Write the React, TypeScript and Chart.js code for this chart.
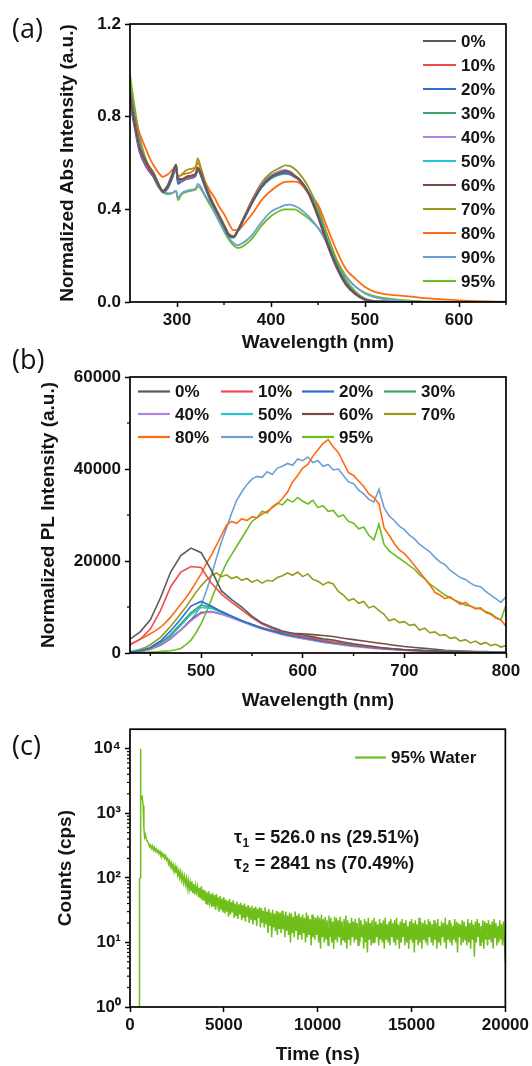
import { useEffect, useRef } from 'react';
import { Chart, registerables } from 'chart.js';

Chart.register(...registerables);

const SANS = '"Liberation Sans", Arial, Helvetica, sans-serif';
const PANEL_FONT = '"Open Sans", "Liberation Sans", sans-serif';
const INK = '#141414';

const SERIES_LABELS = ['0%', '10%', '20%', '30%', '40%', '50%', '60%', '70%', '80%', '90%', '95%'];
const SERIES_COLORS = ['#5a5a5a', '#ef4b4f', '#2a6fd6', '#3aa56c', '#b382e3', '#22c7d6', '#7a4a48', '#999a1c', '#ff6a13', '#6d9fd6', '#6cbd1f'];

// ---------- (a) absorption ----------
const ABS_WL = [250, 255, 260, 265, 270, 275, 280, 285, 290, 295, 299, 301, 305, 310, 315, 320, 322, 325, 330, 335, 340, 345, 350, 355, 360, 365, 370, 375, 380, 390, 400, 410, 415, 420, 425, 430, 440, 450, 460, 470, 480, 490, 500, 510, 520, 540, 560, 580, 600, 620, 640, 650];
const ABS_0 = [0.90, 0.77, 0.67, 0.62, 0.58, 0.55, 0.51, 0.48, 0.50, 0.55, 0.59, 0.53, 0.53, 0.54, 0.545, 0.555, 0.58, 0.56, 0.50, 0.45, 0.41, 0.37, 0.33, 0.29, 0.28, 0.31, 0.35, 0.39, 0.43, 0.50, 0.54, 0.56, 0.565, 0.56, 0.545, 0.53, 0.47, 0.37, 0.25, 0.15, 0.075, 0.035, 0.01, 0.003, 0.001, 0, 0, 0, 0, 0, 0, 0];
const ABS_10 = [0.88, 0.76, 0.66, 0.61, 0.57, 0.545, 0.505, 0.478, 0.50, 0.545, 0.585, 0.525, 0.525, 0.535, 0.54, 0.55, 0.575, 0.555, 0.50, 0.45, 0.41, 0.37, 0.33, 0.29, 0.282, 0.312, 0.352, 0.392, 0.432, 0.50, 0.54, 0.558, 0.562, 0.556, 0.542, 0.525, 0.465, 0.365, 0.245, 0.145, 0.072, 0.032, 0.009, 0.002, 0.001, 0, 0, 0, 0, 0, 0, 0];
const ABS_20 = [0.86, 0.75, 0.65, 0.60, 0.565, 0.54, 0.50, 0.475, 0.49, 0.535, 0.575, 0.51, 0.52, 0.53, 0.535, 0.545, 0.57, 0.55, 0.495, 0.445, 0.405, 0.365, 0.325, 0.285, 0.278, 0.308, 0.348, 0.388, 0.428, 0.495, 0.535, 0.555, 0.558, 0.553, 0.54, 0.525, 0.47, 0.375, 0.255, 0.155, 0.078, 0.034, 0.01, 0.003, 0.001, 0, 0, 0, 0, 0, 0, 0];
const ABS_30 = [0.89, 0.77, 0.67, 0.615, 0.575, 0.548, 0.505, 0.478, 0.495, 0.54, 0.58, 0.52, 0.525, 0.535, 0.54, 0.55, 0.575, 0.552, 0.497, 0.447, 0.407, 0.367, 0.327, 0.287, 0.28, 0.31, 0.35, 0.39, 0.43, 0.495, 0.535, 0.552, 0.555, 0.552, 0.542, 0.53, 0.475, 0.385, 0.265, 0.16, 0.082, 0.037, 0.011, 0.003, 0.001, 0, 0, 0, 0, 0, 0, 0];
const ABS_40 = [0.91, 0.78, 0.68, 0.62, 0.58, 0.552, 0.51, 0.48, 0.50, 0.548, 0.588, 0.528, 0.528, 0.538, 0.543, 0.553, 0.578, 0.557, 0.50, 0.45, 0.41, 0.37, 0.33, 0.29, 0.28, 0.31, 0.352, 0.394, 0.436, 0.505, 0.545, 0.566, 0.57, 0.564, 0.548, 0.53, 0.47, 0.37, 0.25, 0.148, 0.074, 0.033, 0.009, 0.002, 0.001, 0, 0, 0, 0, 0, 0, 0];
const ABS_50 = [0.87, 0.76, 0.66, 0.61, 0.57, 0.545, 0.505, 0.476, 0.492, 0.538, 0.578, 0.518, 0.522, 0.532, 0.538, 0.548, 0.572, 0.55, 0.495, 0.446, 0.406, 0.366, 0.326, 0.286, 0.279, 0.309, 0.349, 0.389, 0.429, 0.494, 0.533, 0.55, 0.553, 0.55, 0.54, 0.528, 0.474, 0.384, 0.266, 0.162, 0.084, 0.038, 0.012, 0.003, 0.001, 0, 0, 0, 0, 0, 0, 0];
const ABS_60 = [0.92, 0.79, 0.68, 0.625, 0.585, 0.555, 0.512, 0.472, 0.50, 0.55, 0.592, 0.53, 0.53, 0.54, 0.545, 0.555, 0.58, 0.558, 0.502, 0.452, 0.412, 0.372, 0.332, 0.292, 0.282, 0.312, 0.354, 0.396, 0.438, 0.506, 0.546, 0.564, 0.566, 0.56, 0.545, 0.528, 0.468, 0.368, 0.248, 0.148, 0.074, 0.033, 0.009, 0.002, 0.001, 0, 0, 0, 0, 0, 0, 0];
const ABS_70 = [0.93, 0.80, 0.69, 0.63, 0.59, 0.56, 0.515, 0.48, 0.505, 0.555, 0.595, 0.54, 0.55, 0.57, 0.575, 0.585, 0.62, 0.585, 0.515, 0.46, 0.415, 0.375, 0.335, 0.295, 0.285, 0.315, 0.357, 0.40, 0.443, 0.515, 0.558, 0.58, 0.59, 0.588, 0.575, 0.555, 0.495, 0.405, 0.29, 0.18, 0.095, 0.045, 0.015, 0.004, 0.001, 0, 0, 0, 0, 0, 0, 0];
const ABS_80 = [0.90, 0.80, 0.73, 0.68, 0.63, 0.59, 0.56, 0.54, 0.55, 0.57, 0.585, 0.54, 0.55, 0.555, 0.56, 0.58, 0.60, 0.58, 0.52, 0.48, 0.45, 0.41, 0.38, 0.34, 0.31, 0.31, 0.33, 0.355, 0.38, 0.44, 0.48, 0.51, 0.518, 0.52, 0.52, 0.515, 0.47, 0.42, 0.32, 0.22, 0.14, 0.10, 0.065, 0.045, 0.035, 0.026, 0.018, 0.012, 0.007, 0.004, 0.002, 0.001];
const ABS_90 = [0.92, 0.80, 0.70, 0.62, 0.57, 0.54, 0.50, 0.48, 0.47, 0.47, 0.48, 0.45, 0.47, 0.48, 0.485, 0.49, 0.51, 0.50, 0.46, 0.43, 0.39, 0.35, 0.31, 0.28, 0.255, 0.245, 0.255, 0.27, 0.29, 0.345, 0.39, 0.41, 0.418, 0.42, 0.415, 0.405, 0.37, 0.32, 0.25, 0.17, 0.11, 0.065, 0.037, 0.021, 0.013, 0.005, 0.002, 0.001, 0, 0, 0, 0];
const ABS_95 = [0.98, 0.84, 0.72, 0.64, 0.58, 0.54, 0.50, 0.475, 0.465, 0.47, 0.48, 0.44, 0.465, 0.475, 0.48, 0.485, 0.50, 0.49, 0.455, 0.42, 0.385, 0.345, 0.305, 0.27, 0.245, 0.233, 0.24, 0.255, 0.275, 0.33, 0.37, 0.395, 0.40, 0.40, 0.40, 0.39, 0.36, 0.32, 0.26, 0.18, 0.11, 0.065, 0.04, 0.025, 0.018, 0.008, 0.003, 0.001, 0, 0, 0, 0];
const ABS_X_TICKS = [300, 400, 500, 600];
const ABS_X_MINOR = [350, 450, 550, 650];
const ABS_Y_TICKS = [0, 0.4, 0.8, 1.2];

// ---------- (b) photoluminescence ----------
const PL_WL = [430, 440, 450, 460, 470, 480, 490, 500, 510, 520, 530, 540, 550, 560, 570, 580, 590, 600, 610, 620, 630, 640, 650, 660, 670, 680, 690, 700, 710, 720, 730, 740, 750, 760, 770, 780, 790, 800];
const PL_WL_FINE = [430, 435, 440, 445, 450, 455, 460, 465, 470, 475, 480, 485, 490, 495, 500, 505, 510, 515, 520, 525, 530, 535, 540, 545, 550, 555, 560, 565, 570, 575, 580, 585, 590, 595, 600, 605, 610, 615, 620, 625, 630, 635, 640, 645, 650, 655, 660, 665, 670, 675, 680, 685, 690, 695, 700, 705, 710, 715, 720, 725, 730, 735, 740, 745, 750, 755, 760, 765, 770, 775, 780, 785, 790, 795, 800];
const PL_0 = [3000, 4600, 7200, 12000, 17600, 21200, 22800, 21800, 18000, 13500, 11600, 10000, 8000, 6500, 5600, 4800, 4300, 3900, 3500, 3100, 2800, 2400, 2000, 1700, 1400, 1100, 900, 700, 600, 500, 400, 300, 300, 200, 200, 100, 100, 100];
const PL_10 = [1800, 3000, 5200, 9200, 14400, 17600, 18800, 18600, 15200, 12800, 11000, 9400, 7700, 6300, 5300, 4600, 4100, 3600, 3200, 2800, 2400, 2100, 1800, 1500, 1200, 1000, 800, 600, 500, 400, 300, 300, 200, 200, 100, 100, 100, 100];
const PL_20 = [200, 500, 1200, 2600, 4800, 7400, 10200, 11200, 10200, 9000, 8000, 7000, 6200, 5400, 4800, 4200, 3800, 3400, 3000, 2600, 2300, 2000, 1700, 1400, 1200, 1000, 800, 700, 600, 500, 400, 300, 300, 200, 200, 200, 100, 100];
const PL_30 = [200, 400, 1000, 2200, 4000, 6400, 8800, 10400, 10000, 9000, 8000, 7000, 6200, 5400, 4800, 4200, 3700, 3300, 2900, 2500, 2200, 1900, 1600, 1400, 1200, 1000, 800, 700, 600, 500, 400, 300, 300, 200, 200, 200, 100, 100];
const PL_40 = [100, 300, 800, 1800, 3200, 5000, 7000, 8600, 9000, 8400, 7600, 6800, 6000, 5200, 4600, 4000, 3500, 3100, 2700, 2300, 2000, 1700, 1400, 1200, 1000, 800, 700, 600, 500, 400, 300, 300, 200, 200, 100, 100, 100, 100];
const PL_50 = [200, 400, 900, 2000, 3700, 6000, 8400, 9900, 9700, 8800, 7900, 7000, 6100, 5300, 4700, 4100, 3600, 3200, 2800, 2400, 2100, 1800, 1600, 1300, 1100, 1000, 800, 700, 700, 600, 500, 400, 300, 300, 200, 200, 100, 100];
const PL_60 = [100, 300, 800, 1700, 3100, 5000, 7200, 8800, 9000, 8500, 7800, 7000, 6200, 5500, 4900, 4500, 4300, 4200, 4000, 3800, 3600, 3200, 2900, 2600, 2300, 2000, 1700, 1400, 1200, 1000, 800, 600, 500, 400, 300, 300, 200, 200];
const PL_70 = [300, 500, 800, 1200, 1800, 2600, 3400, 4600, 5800, 7200, 8600, 10000, 11600, 13200, 14600, 15800, 16800, 17400, 16600, 17000, 16200, 16600, 15800, 16200, 15400, 15900, 15200, 15800, 15600, 16400, 16800, 17400, 16900, 17600, 16600, 17200, 16000, 15600, 14800, 15400, 15000, 13400, 12600, 11400, 11800, 10800, 11200, 9800, 10200, 9200, 8400, 7000, 7400, 6600, 6800, 6000, 6200, 5000, 5400, 4400, 4600, 3800, 4000, 3200, 3400, 2600, 2900, 2200, 2600, 1900, 2300, 1600, 1900, 1300, 1600];
const PL_80 = [1800, 2400, 3000, 3600, 4200, 4800, 5600, 6600, 7800, 9200, 10600, 12000, 13600, 15400, 17200, 19400, 21200, 23400, 25600, 27800, 28600, 28200, 29200, 28800, 29600, 29400, 30200, 30800, 31600, 32400, 33600, 35000, 37200, 38600, 40200, 41000, 42800, 44200, 45600, 46400, 44800, 43600, 41400, 39200, 38600, 37400, 36200, 34600, 33800, 32400, 27200, 25600, 23800, 22400, 21600, 20400, 19000, 17600, 16200, 14800, 13200, 12600, 11800, 12200, 11400, 10600, 11000, 10200, 9600, 9800, 8800, 8400, 7600, 7200, 5800];
const PL_90 = [200, 300, 500, 700, 1000, 1400, 2000, 2600, 3400, 4200, 5000, 6000, 7200, 8600, 10400, 13400, 16800, 20600, 24200, 27200, 30400, 33200, 35000, 36600, 37800, 38400, 38200, 39400, 38800, 40200, 40600, 41200, 40800, 42200, 41800, 42600, 41400, 41800, 40600, 41000, 39800, 40000, 38600, 37200, 36800, 35400, 34600, 33400, 32800, 35600, 31600, 29800, 28800, 27600, 26800, 25600, 24800, 23600, 22800, 22000, 20800, 19800, 19200, 18000, 17200, 16400, 16000, 15200, 14600, 14400, 13400, 12600, 11800, 11000, 12200];
const PL_95 = [100, 100, 100, 100, 200, 200, 300, 400, 500, 700, 1000, 1800, 2800, 4400, 6400, 8800, 11600, 14400, 17200, 19600, 21400, 23200, 25000, 26800, 28600, 29400, 30800, 30400, 31800, 32600, 32200, 33400, 32800, 33800, 33000, 32400, 33200, 31600, 32000, 30800, 31000, 29600, 30000, 28600, 28200, 27000, 27400, 25600, 24600, 28000, 23600, 22200, 21400, 20600, 19800, 19000, 18200, 17000, 16200, 15000, 14200, 13400, 12600, 12000, 11400, 11000, 10400, 10200, 9800, 9600, 9000, 8600, 7800, 7200, 10400];
const PL_X_TICKS = [500, 600, 700, 800];
const PL_X_MINOR = [450, 550, 650, 750];
const PL_Y_TICKS = [0, 20000, 40000, 60000];
const PL_Y_MINOR = [10000, 30000, 50000];

// ---------- (c) decay ----------
const DECAY_EARLY_T = [500, 505, 550, 560, 575, 600, 650, 700, 740, 780, 820, 880, 940];
const DECAY_EARLY_COUNTS = [0.3, 95, 100, 10000, 1900, 1700, 1800, 1300, 600, 430, 470, 390, 360];
const DECAY_TAIL_T0 = 1000;
const DECAY_TAIL_STEP = 50;
const DECAY_TAIL_COUNTS = [
  340, 300, 320, 285, 310, 270, 295, 260, 280, 250, 265, 235, 255, 225, 240, 215, 230, 200, 220, 190,
  200, 165, 185, 150, 170, 140, 160, 125, 150, 118, 140, 110, 128, 100, 122, 92, 112, 85, 105, 80,
  98, 70, 92, 66, 85, 62, 88, 58, 80, 55, 76, 60, 72, 50, 70, 48, 74, 45, 66, 44,
  64, 40, 60, 38, 62, 42, 56, 35, 58, 36, 54, 32, 56, 38, 50, 30, 52, 33, 48, 29,
  50, 28, 46, 30, 44, 25, 47, 27, 42, 29, 45, 24, 40, 26, 43, 23, 39, 27, 41, 22,
  38, 24, 40, 21, 36, 25, 38, 20, 35, 23, 37, 19, 34, 22, 36, 18, 33, 24, 35, 17,
  34, 20, 31, 17, 35, 19, 30, 14, 33, 18, 29, 12, 32, 17, 28, 15, 31, 13, 30, 16,
  29, 14, 31, 16, 27, 12, 30, 15, 26, 13, 29, 10, 28, 14, 25, 12, 30, 15, 26, 11,
  28, 13, 25, 11, 27, 14, 24, 10, 29, 12, 26, 13, 23, 9, 27, 12, 25, 11, 24, 13,
  26, 10, 24, 8, 27, 12, 23, 10, 25, 11, 22, 9, 26, 12, 24, 10, 21, 8, 25, 11,
  24, 10, 22, 12, 25, 9, 21, 11, 23, 10, 26, 8, 22, 11, 20, 9, 24, 12, 21, 10,
  23, 11, 20, 9, 24, 10, 22, 12, 19, 8, 23, 10, 21, 7, 24, 11, 20, 9, 22, 10,
  24, 10, 21, 12, 19, 9, 23, 11, 20, 10, 22, 8, 24, 11, 19, 10, 21, 9, 23, 12,
  20, 10, 22, 9, 24, 11, 19, 8, 21, 10, 23, 12, 20, 9, 22, 10, 18, 8, 21, 11,
  23, 10, 20, 7, 22, 11, 19, 9, 24, 10, 21, 8, 20, 11, 22, 10, 19, 9, 23, 12,
  21, 10, 19, 9, 22, 11, 20, 8, 23, 10, 18, 9, 21, 12, 20, 10, 24, 8, 19, 11,
  22, 10, 20, 9, 18, 11, 23, 10, 21, 7, 20, 12, 19, 9, 22, 10, 21, 11, 18, 9,
  23, 10, 20, 8, 22, 11, 19, 6, 21, 10, 23, 12, 20, 9, 18, 10, 22, 8, 21, 11,
  20, 9, 22, 11, 19, 10, 21, 8, 23, 12, 20, 9, 18, 10, 22, 11, 19, 9, 21, 10,
  5,
];
const DECAY_X_TICKS = [0, 5000, 10000, 15000, 20000];
const DECAY_Y_TICKS = [1, 10, 100, 1000, 10000];
const DECAY_Y_LABELS = ['10⁰', '10¹', '10²', '10³', '10⁴'];
const DECAY_Y_MINOR = [2, 3, 4, 5, 6, 7, 8, 9, 20, 30, 40, 50, 60, 70, 80, 90, 200, 300, 400, 500, 600, 700, 800, 900, 2000, 3000, 4000, 5000, 6000, 7000, 8000, 9000];
const DECAY_LABEL = '95% Water';
const DECAY_COLOR = '#70be1a';
const TAU_LINES = [
  { sub: '1', text: ' = 526.0 ns (29.51%)' },
  { sub: '2', text: ' = 2841 ns (70.49%)' },
];

const ABS_SERIES = [ABS_0, ABS_10, ABS_20, ABS_30, ABS_40, ABS_50, ABS_60, ABS_70, ABS_80, ABS_90, ABS_95];
const PL_SERIES = [PL_0, PL_10, PL_20, PL_30, PL_40, PL_50, PL_60, PL_70, PL_80, PL_90, PL_95];
const PL_SERIES_X = [PL_WL, PL_WL, PL_WL, PL_WL, PL_WL, PL_WL, PL_WL, PL_WL_FINE, PL_WL_FINE, PL_WL_FINE, PL_WL_FINE];

const toPoints = (xs: number[], ys: number[]) => xs.map((x, i) => ({ x, y: ys[i] }));

function tickFont() {
  return { family: SANS, size: 17, weight: 'bold' as const };
}
function titleFont() {
  return { family: SANS, size: 19, weight: 'bold' as const };
}

function xAxis(opts: any) {
  return {
    type: opts.type || 'linear',
    min: opts.min,
    max: opts.max,
    afterBuildTicks: (s: any) => { s.ticks = opts.ticks.map((v: number) => ({ value: v })); },
    afterFit: (s: any) => { s.height = opts.fitHeight; },
    grid: { display: true, drawOnChartArea: false, drawTicks: true, tickLength: 5, tickWidth: 1.5, tickColor: '#000' },
    border: { display: false },
    ticks: { color: INK, font: tickFont(), padding: 3, maxRotation: 0, autoSkip: false, callback: opts.fmt },
    title: { display: true, text: opts.title, color: INK, font: titleFont(), padding: { top: 0, bottom: opts.titlePad } },
  };
}
function yAxis(opts: any) {
  return {
    type: opts.type || 'linear',
    min: opts.min,
    max: opts.max,
    afterBuildTicks: (s: any) => { s.ticks = opts.ticks.map((v: number) => ({ value: v })); },
    afterFit: (s: any) => { s.width = 130; },
    grid: { display: true, drawOnChartArea: false, drawTicks: true, tickLength: 5, tickWidth: 1.5, tickColor: '#000' },
    border: { display: false },
    ticks: { color: INK, font: tickFont(), padding: 4, autoSkip: false, callback: opts.fmt },
    title: { display: true, text: opts.title, color: INK, font: titleFont(), padding: { top: opts.titlePad, bottom: 0 } },
  };
}

function drawFrame(chart: any) {
  const { ctx, chartArea } = chart;
  const { left, top, right, bottom } = chartArea;
  ctx.save();
  ctx.strokeStyle = '#000';
  ctx.lineWidth = 1.7;
  ctx.strokeRect(left, top, right - left, bottom - top);
  ctx.restore();
}
function drawMinorX(chart: any, values: number[]) {
  const { ctx, chartArea } = chart;
  const s = chart.scales.x;
  ctx.save();
  ctx.strokeStyle = '#000';
  ctx.lineWidth = 1.4;
  values.forEach((v) => {
    const p = s.getPixelForValue(v);
    ctx.beginPath();
    ctx.moveTo(p, chartArea.bottom);
    ctx.lineTo(p, chartArea.bottom + 3);
    ctx.stroke();
  });
  ctx.restore();
}
function drawMinorY(chart: any, values: number[]) {
  const { ctx, chartArea } = chart;
  const s = chart.scales.y;
  ctx.save();
  ctx.strokeStyle = '#000';
  ctx.lineWidth = 1.2;
  values.forEach((v) => {
    const p = s.getPixelForValue(v);
    ctx.beginPath();
    ctx.moveTo(chartArea.left - 3, p);
    ctx.lineTo(chartArea.left, p);
    ctx.stroke();
  });
  ctx.restore();
}
function drawPanelLabel(chart: any, text: string, x: number, y: number) {
  const { ctx } = chart;
  ctx.save();
  ctx.fillStyle = '#111';
  ctx.font = `27px ${PANEL_FONT}`;
  ctx.textBaseline = 'middle';
  ctx.textAlign = 'left';
  ctx.fillText(text, x, y);
  ctx.restore();
}
function drawLegendItem(chart: any, x: number, y: number, color: string, text: string, len = 33) {
  const { ctx } = chart;
  ctx.save();
  ctx.strokeStyle = color;
  ctx.lineWidth = 2.2;
  ctx.beginPath();
  ctx.moveTo(x, y);
  ctx.lineTo(x + len, y);
  ctx.stroke();
  ctx.fillStyle = INK;
  ctx.font = `bold 17px ${SANS}`;
  ctx.textBaseline = 'middle';
  ctx.textAlign = 'left';
  ctx.fillText(text, x + len + 5, y + 1);
  ctx.restore();
}

function baseOptions(padTop: number) {
  return {
    animation: false as const,
    responsive: false,
    maintainAspectRatio: false,
    devicePixelRatio: 1,
    events: [],
    layout: { padding: { left: 0, top: padTop, right: 26, bottom: 0 } },
    plugins: { legend: { display: false }, tooltip: { enabled: false }, title: { display: false } },
    elements: { point: { radius: 0 } },
  };
}

function configA(): any {
  return {
    type: 'line',
    data: {
      datasets: ABS_SERIES.map((ys, i) => ({
        label: SERIES_LABELS[i],
        data: toPoints(ABS_WL, ys),
        borderColor: SERIES_COLORS[i],
        borderWidth: 1.8,
        pointRadius: 0,
        fill: false,
        cubicInterpolationMode: 'monotone',
      })),
    },
    options: {
      ...baseOptions(24),
      scales: {
        x: xAxis({ min: 250, max: 650, ticks: ABS_X_TICKS, fitHeight: 63, title: 'Wavelength (nm)', titlePad: 11, fmt: (v: number) => String(v) }),
        y: yAxis({ min: 0, max: 1.2, ticks: ABS_Y_TICKS, title: 'Normalized Abs Intensity (a.u.)', titlePad: 56.6, fmt: (v: number) => v.toFixed(1) }),
      },
    },
    plugins: [{
      id: 'decorA',
      afterDraw(chart: any) {
        drawFrame(chart);
        drawMinorX(chart, ABS_X_MINOR);
        drawPanelLabel(chart, '(a)', 12, 30);
        SERIES_LABELS.forEach((lab, i) => drawLegendItem(chart, 423, 41 + 24 * i, SERIES_COLORS[i], lab));
      },
    }],
  };
}

function configB(): any {
  return {
    type: 'line',
    data: {
      datasets: PL_SERIES.map((ys, i) => ({
        label: SERIES_LABELS[i],
        data: toPoints(PL_SERIES_X[i], ys),
        borderColor: SERIES_COLORS[i],
        borderWidth: 1.6,
        pointRadius: 0,
        fill: false,
        tension: 0,
      })),
    },
    options: {
      ...baseOptions(37),
      scales: {
        x: xAxis({ min: 430, max: 800, ticks: PL_X_TICKS, fitHeight: 62, title: 'Wavelength (nm)', titlePad: 2.6, fmt: (v: number) => String(v) }),
        y: yAxis({ min: 0, max: 60000, ticks: PL_Y_TICKS, title: 'Normalized PL Intensity (a.u.)', titlePad: 37.6, fmt: (v: number) => String(v) }),
      },
    },
    plugins: [{
      id: 'decorB',
      afterDraw(chart: any) {
        drawFrame(chart);
        drawMinorX(chart, PL_X_MINOR);
        drawMinorY(chart, PL_Y_MINOR);
        drawPanelLabel(chart, '(b)', 12, 21);
        const cols = [138, 221, 302, 384];
        const rows = [51.5, 74, 97];
        SERIES_LABELS.forEach((lab, i) => {
          drawLegendItem(chart, cols[i % 4], rows[Math.floor(i / 4)], SERIES_COLORS[i], lab, 32);
        });
      },
    }],
  };
}

function configC(): any {
  const tailT = DECAY_TAIL_COUNTS.map((_, i) => DECAY_TAIL_T0 + DECAY_TAIL_STEP * i);
  const pts = [...toPoints(DECAY_EARLY_T, DECAY_EARLY_COUNTS), ...toPoints(tailT, DECAY_TAIL_COUNTS)];
  return {
    type: 'line',
    data: {
      datasets: [{
        label: DECAY_LABEL,
        data: pts,
        borderColor: DECAY_COLOR,
        borderWidth: 1.5,
        pointRadius: 0,
        fill: false,
        tension: 0,
      }],
    },
    options: {
      ...baseOptions(14),
      scales: {
        x: xAxis({ min: 0, max: 20000, ticks: DECAY_X_TICKS, fitHeight: 59, title: 'Time (ns)', titlePad: 0, fmt: (v: number) => String(v) }),
        y: yAxis({ type: 'logarithmic', min: 1, max: 20000, ticks: DECAY_Y_TICKS, title: 'Counts (cps)', titlePad: 54, fmt: (v: number) => DECAY_Y_LABELS[DECAY_Y_TICKS.indexOf(v)] ?? '' }),
      },
    },
    plugins: [{
      id: 'decorC',
      afterDraw(chart: any) {
        drawFrame(chart);
        drawMinorY(chart, DECAY_Y_MINOR);
        drawPanelLabel(chart, '(c)', 12, 32.5);
        drawLegendItem(chart, 355, 42.5, DECAY_COLOR, DECAY_LABEL, 31);
        const { ctx } = chart;
        ctx.save();
        ctx.fillStyle = INK;
        ctx.textBaseline = 'middle';
        ctx.textAlign = 'left';
        TAU_LINES.forEach((ln, i) => {
          const x = 234;
          const y = 123.5 + 25.5 * i;
          ctx.font = `bold 18px ${SANS}`;
          ctx.fillText('τ', x, y);
          const w1 = ctx.measureText('τ').width;
          ctx.font = `bold 12px ${SANS}`;
          ctx.fillText(ln.sub, x + w1 + 0.5, y + 5);
          const w2 = ctx.measureText(ln.sub).width;
          ctx.font = `bold 18px ${SANS}`;
          ctx.fillText(ln.text, x + w1 + w2 + 1, y);
        });
        ctx.restore();
      },
    }],
  };
}

export default function App() {
  const refA = useRef<HTMLCanvasElement | null>(null);
  const refB = useRef<HTMLCanvasElement | null>(null);
  const refC = useRef<HTMLCanvasElement | null>(null);

  useEffect(() => {
    const charts: Chart[] = [];
    if (refA.current) charts.push(new Chart(refA.current, configA()));
    if (refB.current) charts.push(new Chart(refB.current, configB()));
    if (refC.current) charts.push(new Chart(refC.current, configC()));
    return () => charts.forEach((c) => c.destroy());
  }, []);

  return (
    <div style={{ position: 'absolute', left: 0, top: 0, width: 532, height: 1066, background: '#fff', overflow: 'hidden' }}>
      <canvas ref={refA} width={532} height={365} style={{ position: 'absolute', left: 0, top: 0, width: 532, height: 365 }} />
      <canvas ref={refB} width={532} height={375} style={{ position: 'absolute', left: 0, top: 340, width: 532, height: 375 }} />
      <canvas ref={refC} width={532} height={351} style={{ position: 'absolute', left: 0, top: 715, width: 532, height: 351 }} />
    </div>
  );
}
